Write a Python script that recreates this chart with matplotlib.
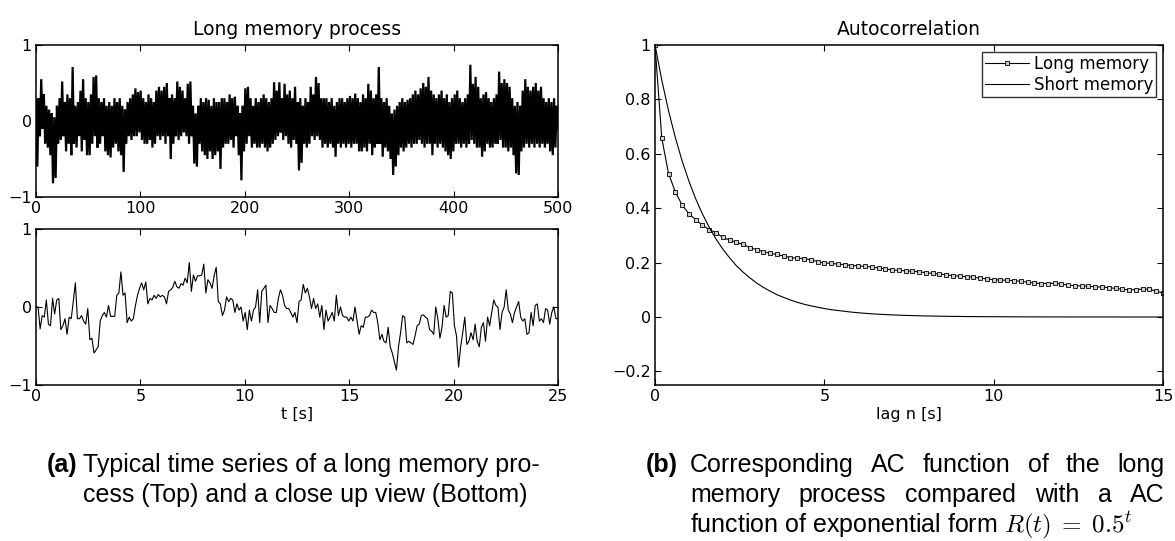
import numpy as np
import matplotlib
matplotlib.use("Agg")
import matplotlib.pyplot as plt

# ---------------- data ----------------
# top panel: long memory process over 500 s (dense series, read as local extremes)
long_series = [
    0.27, -0.6, 0.3, -0.2, 0.55, -0.1, 0.35, -0.3, 0.2, -0.35, 0.15, -0.45, 0.1, -0.82, 0.05, -0.75, 0.2, -0.3, 0.3, -0.25,
    0.52, -0.2, 0.25, -0.4, 0.35, -0.3, 0.3, -0.45, 0.71, -0.3, 0.2, -0.35, 0.25, -0.2, 0.4, -0.4, 0.55, -0.25, 0.3, -0.45,
    0.25, -0.45, 0.35, -0.3, 0.58, -0.2, 0.6, -0.35, 0.3, -0.3, 0.25, -0.2, 0.3, -0.4, 0.2, -0.45, 0.25, -0.48, 0.2, -0.35,
    0.3, -0.3, 0.25, -0.4, 0.3, -0.45, 0.2, -0.67, 0.15, -0.3, 0.25, -0.2, 0.3, -0.25, 0.35, -0.2, 0.43, -0.2, 0.38, -0.15,
    0.4, -0.25, 0.3, -0.3, 0.25, -0.3, 0.35, -0.25, 0.3, -0.35, 0.25, -0.3, 0.4, -0.2, 0.45, -0.25, 0.4, -0.2, 0.45, -0.3,
    0.5, -0.2, 0.3, -0.5, 0.35, -0.3, 0.3, -0.2, 0.52, -0.25, 0.45, -0.2, 0.4, -0.15, 0.3, -0.2, 0.49, -0.3, 0.52, -0.2,
    0.2, -0.56, 0.1, -0.6, 0.2, -0.3, 0.3, -0.4, 0.25, -0.45, 0.3, -0.5, 0.28, -0.4, 0.2, -0.5, 0.3, -0.45, 0.25, -0.4,
    0.25, -0.63, 0.3, -0.35, 0.3, -0.3, 0.25, -0.3, 0.35, -0.25, 0.3, -0.35, 0.32, -0.2, 0.2, -0.45, 0.1, -0.78, 0.2, -0.4,
    0.43, -0.3, 0.45, -0.2, 0.3, -0.35, 0.2, -0.3, 0.3, -0.35, 0.25, -0.35, 0.3, -0.3, 0.35, -0.35, 0.3, -0.4, 0.25, -0.35,
    0.3, -0.3, 0.51, -0.25, 0.4, -0.2, 0.51, -0.15, 0.3, -0.25, 0.49, -0.2, 0.35, -0.3, 0.4, -0.35, 0.3, -0.25, 0.45, -0.3,
    0.25, -0.65, 0.3, -0.55, 0.2, -0.3, 0.3, -0.35, 0.25, -0.3, 0.45, -0.2, 0.35, -0.25, 0.58, -0.2, 0.5, -0.25, 0.3, -0.35,
    0.3, -0.3, 0.3, -0.35, 0.25, -0.3, 0.3, -0.35, 0.2, -0.47, 0.25, -0.3, 0.3, -0.35, 0.3, -0.3, 0.25, -0.35, 0.3, -0.3,
    0.33, -0.35, 0.3, -0.3, 0.36, -0.3, 0.3, -0.4, 0.25, -0.4, 0.35, -0.35, 0.3, -0.4, 0.49, -0.3, 0.4, -0.45, 0.3, -0.35,
    0.35, -0.3, 0.71, -0.3, 0.3, -0.47, 0.25, -0.35, 0.3, -0.4, 0.2, -0.5, 0.1, -0.71, 0.15, -0.6, 0.2, -0.45, 0.25, -0.35,
    0.3, -0.4, 0.25, -0.35, 0.28, -0.3, 0.3, -0.35, 0.35, -0.3, 0.4, -0.3, 0.35, -0.25, 0.43, -0.3, 0.5, -0.35, 0.45, -0.3,
    0.58, -0.3, 0.4, -0.45, 0.35, -0.3, 0.3, -0.35, 0.35, -0.3, 0.4, -0.35, 0.3, -0.4, 0.35, -0.45, 0.25, -0.5, 0.3, -0.4,
    0.35, -0.3, 0.4, -0.3, 0.3, -0.35, 0.25, -0.3, 0.3, -0.35, 0.35, -0.3, 0.74, -0.25, 0.49, -0.3, 0.58, -0.35, 0.45, -0.35,
    0.3, -0.47, 0.35, -0.4, 0.38, -0.3, 0.3, -0.35, 0.25, -0.35, 0.3, -0.3, 0.35, -0.3, 0.65, -0.25, 0.5, -0.35, 0.55, -0.35,
    0.5, -0.4, 0.45, -0.35, 0.3, -0.45, 0.2, -0.69, 0.25, -0.71, 0.2, -0.4, 0.4, -0.35, 0.55, -0.3, 0.45, -0.35, 0.4, -0.3,
    0.45, -0.35, 0.5, -0.3, 0.4, -0.35, 0.45, -0.3, 0.3, -0.35, 0.25, -0.3, 0.3, -0.4, 0.25, -0.45, 0.3, -0.35, 0.2, -0.1,
]
long_t_end = 500

# bottom panel: close-up over 25 s (dt = 0.1 s)
closeup_series = [
    0.00, 0.00, -0.28, -0.11, -0.13, 0.09, -0.22, -0.24, 0.11, -0.09,
    0.09, 0.11, -0.29, -0.24, -0.15, -0.35, -0.13, -0.15, 0.07, 0.31,
    -0.15, -0.15, -0.11, -0.18, -0.22, -0.02, -0.42, -0.40, -0.59, -0.55,
    -0.51, -0.18, -0.11, -0.07, -0.13, 0.02, -0.12, -0.12, -0.12, 0.15,
    0.18, 0.45, 0.15, 0.18, -0.20, -0.13, -0.18, -0.15, 0.02, 0.15,
    0.24, 0.31, 0.22, 0.32, 0.04, 0.11, 0.09, 0.15, 0.11, 0.16,
    0.13, 0.15, 0.13, 0.04, 0.20, 0.22, 0.25, 0.33, 0.26, 0.24,
    0.30, 0.28, 0.37, 0.31, 0.57, 0.20, 0.41, 0.33, 0.40, 0.40,
    0.41, 0.55, 0.18, 0.35, 0.31, 0.24, 0.40, 0.51, 0.07, 0.04,
    -0.11, -0.04, 0.13, 0.07, 0.11, 0.09, -0.07, 0.04, -0.04, 0.00,
    -0.18, -0.07, -0.29, -0.04, -0.18, -0.04, 0.00, 0.22, -0.20, 0.20,
    0.24, 0.28, -0.20, 0.02, -0.02, -0.07, -0.07, 0.11, 0.22, 0.15,
    0.02, -0.02, -0.02, -0.07, -0.13, -0.07, -0.20, 0.07, 0.09, 0.29,
    0.18, 0.24, 0.13, -0.02, 0.11, -0.02, 0.04, -0.13, 0.02, -0.29,
    -0.04, -0.18, -0.13, -0.07, -0.18, 0.15, -0.11, 0.00, -0.11, -0.13,
    -0.13, -0.18, -0.13, -0.18, 0.00, -0.18, -0.35, -0.24, -0.26, -0.13,
    -0.13, -0.11, -0.04, -0.07, -0.07, -0.20, -0.42, -0.35, -0.44, -0.46,
    -0.26, -0.51, -0.59, -0.70, -0.81, -0.51, -0.33, -0.11, -0.13, -0.46,
    -0.44, -0.46, -0.48, -0.37, -0.24, -0.22, -0.11, -0.10, -0.13, -0.15,
    -0.29, -0.31, -0.35, 0.00, -0.15, -0.40, -0.26, 0.02, -0.13, -0.11,
    0.20, 0.18, -0.24, -0.37, -0.77, -0.51, -0.33, -0.13, -0.48, -0.44,
    -0.33, -0.42, -0.22, -0.44, -0.51, -0.26, -0.20, -0.44, -0.13, -0.24,
    -0.07, 0.09, 0.02, 0.00, -0.29, -0.07, 0.00, 0.22, -0.04, -0.09,
    -0.20, -0.07, 0.00, 0.07, -0.13, -0.18, -0.15, -0.35, -0.33, -0.07,
    -0.24, 0.02, 0.04, -0.18, -0.15, -0.20, -0.02, -0.04, -0.22, -0.07,
    0.00, -0.15, -0.15,
]
closeup_t_end = 25

# right panel: autocorrelation, lag 0..15 s in steps of 0.2 s
lag_start, lag_end, lag_step = 0.0, 15.0, 0.2
ac_long = [
    1.000, 0.658, 0.527, 0.460, 0.412, 0.380, 0.358, 0.338, 0.321, 0.310,
    0.293, 0.283, 0.274, 0.267, 0.255, 0.248, 0.240, 0.234, 0.230, 0.224,
    0.218, 0.216, 0.215, 0.210, 0.204, 0.198, 0.198, 0.194, 0.193, 0.189,
    0.188, 0.186, 0.184, 0.180, 0.177, 0.173, 0.171, 0.170, 0.168, 0.166,
    0.163, 0.160, 0.158, 0.155, 0.152, 0.150, 0.148, 0.146, 0.143, 0.140,
    0.137, 0.136, 0.135, 0.134, 0.131, 0.128, 0.125, 0.123, 0.123, 0.124,
    0.121, 0.117, 0.115, 0.114, 0.113, 0.111, 0.110, 0.108, 0.105, 0.102,
    0.100, 0.100, 0.103, 0.102, 0.095, 0.088,
]
ac_short = [
    1.000, 0.871, 0.758, 0.660, 0.574, 0.500, 0.435, 0.379, 0.330, 0.287,
    0.250, 0.218, 0.189, 0.165, 0.144, 0.125, 0.109, 0.095, 0.082, 0.072,
    0.0625, 0.054, 0.047, 0.041, 0.036, 0.031, 0.027, 0.024, 0.021, 0.018,
    0.0156, 0.0136, 0.0118, 0.0103, 0.009, 0.0078, 0.0068, 0.0059, 0.0052, 0.0045,
    0.0039, 0.0034, 0.003, 0.0026, 0.0022, 0.002, 0.0017, 0.0015, 0.0013, 0.0011,
    0.001, 0.0009, 0.0008, 0.0007, 0.0006, 0.0005, 0.0004, 0.0004, 0.0003, 0.0003,
    0.0002, 0.0002, 0.0002, 0.0001, 0.0001, 0.0001, 0.0001, 0.0001, 0.0001, 0.0,
    0.0, 0.0, 0.0, 0.0, 0.0, 0.0,
]

title_left = "Long memory process"
title_right = "Autocorrelation"
xlabel_bottom = "t [s]"
xlabel_right = "lag n [s]"
legend_labels = ["Long memory", "Short memory"]
cap_a_lines = ["Typical time series of a long memory pro-",
               "cess (Top) and a close up view (Bottom)"]
cap_b_lines = ["Corresponding AC function of the long",
               "memory process compared with a AC",
               r"function of exponential form $R(t)\;=\;0.5^t$"]

# ---------------- style ----------------
plt.rcParams['font.family'] = ['DejaVu Sans']
plt.rcParams['mathtext.fontset'] = 'cm'
plt.rcParams['axes.unicode_minus'] = True

W, H = 1175, 541
fig = plt.figure(figsize=(W / 100, H / 100), dpi=100)


def box(x0, y0, x1, y1):
    return [x0 / W, 1 - y1 / H, (x1 - x0) / W, (y1 - y0) / H]


TICK_FS = 11.5


def style_ax(ax):
    for s in ax.spines.values():
        s.set_linewidth(1.1)
        s.set_color('black')
    ax.tick_params(direction='in', length=4, width=0.8, top=True, right=True,
                   labelsize=TICK_FS, pad=3, colors='black')


ax1 = fig.add_axes(box(36, 45, 558, 197))
ax2 = fig.add_axes(box(36, 229, 558, 385))
ax3 = fig.add_axes(box(655, 45, 1163, 385))

t_long = np.linspace(0, long_t_end, len(long_series))
ax1.plot(t_long, long_series, color='black', lw=1.6, solid_joinstyle='miter')
ax1.set_xlim(0, 500)
ax1.set_ylim(-1, 1)
ax1.set_xticks([0, 100, 200, 300, 400, 500])
ax1.set_yticks([-1, 0, 1])
ax1.set_title(title_left, fontsize=13.5, pad=7)
style_ax(ax1)

t_close = np.linspace(0, closeup_t_end, len(closeup_series))
ax2.plot(t_close, closeup_series, color='black', lw=0.8)
ax2.set_xlim(0, 25)
ax2.set_ylim(-1, 1)
ax2.set_xticks([0, 5, 10, 15, 20, 25])
ax2.set_yticks([-1, 0, 1])
ax2.set_xlabel(xlabel_bottom, fontsize=TICK_FS, labelpad=2)
style_ax(ax2)

lags = np.arange(len(ac_long)) * lag_step + lag_start
ax3.plot(lags, ac_long, color='black', lw=0.8, marker='s', ms=3.2,
         mfc='#cfcfcf', mec='black', mew=0.6, label=legend_labels[0])
ax3.plot(lags, ac_short, color='black', lw=0.8, label=legend_labels[1])
ax3.set_xlim(lag_start, lag_end)
ax3.set_ylim(-0.25, 1)
ax3.set_xticks([0, 5, 10, 15])
ax3.set_yticks([-0.2, 0, 0.2, 0.4, 0.6, 0.8, 1])
ax3.set_yticklabels(['\u22120.2', '0', '0.2', '0.4', '0.6', '0.8', '1'])
ax3.set_title(title_right, fontsize=13.5, pad=7)
ax3.set_xlabel(xlabel_right, fontsize=TICK_FS, labelpad=2)
style_ax(ax3)
leg = ax3.legend(loc='upper right', fontsize=12, frameon=True, fancybox=False,
                 edgecolor='black', borderaxespad=0.4, handlelength=2.6,
                 labelspacing=0.15, borderpad=0.2, handletextpad=0.3)
leg.get_frame().set_linewidth(1.0)

# ---------------- captions ----------------
CAP_FS = 18
renderer = fig.canvas.get_renderer()


def put(text, px, py, **kw):
    return fig.text(px / W, 1 - py / H, text, ha='left', va='baseline',
                    fontsize=CAP_FS, family=['Liberation Sans', 'DejaVu Sans'], **kw)


def width_px(t):
    return t.get_window_extent(renderer).width


def justified(line, x0, x1, py):
    words = line.split(' ')
    objs = [put(w, x0, py) for w in words]
    ws = [width_px(o) for o in objs]
    gap = (x1 - x0 - sum(ws)) / (len(words) - 1)
    x = x0
    for o, w in zip(objs, ws):
        o.set_x(x / W)
        x += w + gap


put('(a)', 47, 472, weight='bold')
put(cap_a_lines[0], 83, 472)
put(cap_a_lines[1], 83, 502)

put('(b)', 646, 472, weight='bold')
justified(cap_b_lines[0], 690, 1165, 472)
justified(cap_b_lines[1], 690, 1165, 502)
put(cap_b_lines[2], 690, 532)

fig.savefig('out.png', dpi=100)
